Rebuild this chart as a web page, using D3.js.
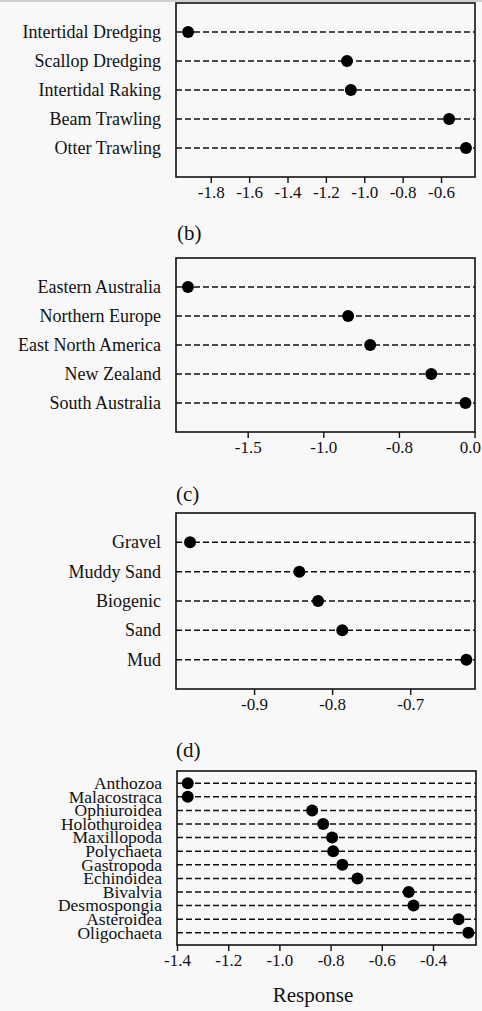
<!DOCTYPE html>
<html>
<head>
<meta charset="utf-8">
<script src="https://cdn.jsdelivr.net/npm/d3@7"></script>
<style>
  html, body { margin: 0; padding: 0; background: #f8f8f8; }
  svg { display: block; }
  text { font-family: "Liberation Serif", "DejaVu Serif", serif; fill: #111; }
</style>
</head>
<body>
<svg id="chart" width="482" height="1011"></svg>
<script>
// ---------- DATA ----------
const gearCategories = ["Intertidal Dredging", "Scallop Dredging", "Intertidal Raking", "Beam Trawling", "Otter Trawling"];
const gearValues = [-1.918, -1.09, -1.07, -0.558, -0.47];
const gearTicks = [-1.8, -1.6, -1.4, -1.2, -1.0, -0.8, -0.6];
const gearTickLabels = ["-1.8", "-1.6", "-1.4", "-1.2", "-1.0", "-0.8", "-0.6"];

const regionCategories = ["Eastern Australia", "Northern Europe", "East North America", "New Zealand", "South Australia"];
const regionValues = [-1.895, -0.836, -0.69, -0.286, -0.06];
const regionTicks = [-1.5, -1.0, -0.5, 0.0];
const regionTickLabels = ["-1.5", "-1.0", "-0.8", "0.0"];

const habitatCategories = ["Gravel", "Muddy Sand", "Biogenic", "Sand", "Mud"];
const habitatValues = [-0.982, -0.842, -0.818, -0.787, -0.628];
const habitatTicks = [-0.9, -0.8, -0.7];
const habitatTickLabels = ["-0.9", "-0.8", "-0.7"];

const taxonCategories = ["Anthozoa", "Malacostraca", "Ophiuroidea", "Holothuroidea", "Maxillopoda", "Polychaeta",
  "Gastropoda", "Echinoidea", "Bivalvia", "Desmospongia", "Asteroidea", "Oligochaeta"];
const taxonValues = [-1.358, -1.358, -0.872, -0.829, -0.794, -0.79, -0.754, -0.695, -0.495, -0.476, -0.30, -0.262];
const taxonTicks = [-1.4, -1.2, -1.0, -0.8, -0.6, -0.4];
const taxonTickLabels = ["-1.4", "-1.2", "-1.0", "-0.8", "-0.6", "-0.4"];

const panelLetters = ["(b)", "(c)", "(d)"];
const xAxisTitle = "Response";

// ---------- LAYOUT ----------
const panels = [
  { cats: gearCategories, vals: gearValues, ticks: gearTicks, labels: gearTickLabels,
    domain: [-1.981, -0.423], left: 176, right: 475, top: 3, bottom: 177, pad: 1, catFont: 18 },
  { cats: regionCategories, vals: regionValues, ticks: regionTicks, labels: regionTickLabels,
    domain: [-1.974, 0.003], left: 176, right: 475, top: 258, bottom: 432, pad: 1, catFont: 18 },
  { cats: habitatCategories, vals: habitatValues, ticks: habitatTicks, labels: habitatTickLabels,
    domain: [-1.0, -0.617], left: 176, right: 475, top: 513, bottom: 689, pad: 1, catFont: 18 },
  { cats: taxonCategories, vals: taxonValues, ticks: taxonTicks, labels: taxonTickLabels,
    domain: [-1.4, -0.232], left: 177, right: 476, top: 771, bottom: 945, pad: 0.9, catFont: 17.5 }
];
const letterPos = [ { x: 177, y: 240 }, { x: 176, y: 501 }, { x: 176, y: 757 } ];

const svg = d3.select("#chart");

svg.append("rect").attr("x", 0).attr("y", 0).attr("width", 482).attr("height", 2)
  .attr("fill", "#cfcfcf");

function drawPanel(p) {
  const x = d3.scaleLinear().domain(p.domain).range([p.left, p.right]);
  const y = d3.scalePoint().domain(p.cats).range([p.top, p.bottom]).padding(p.pad);
  const g = svg.append("g");

  // dashed guide lines
  g.selectAll("line.guide").data(p.cats).join("line")
    .attr("class", "guide")
    .attr("x1", x.range()[0]).attr("x2", x.range()[1])
    .attr("y1", d => y(d)).attr("y2", d => y(d))
    .attr("stroke", "#111").attr("stroke-width", 1.5)
    .attr("stroke-dasharray", "6,3");

  // frame
  g.append("rect")
    .attr("x", p.left).attr("y", p.top)
    .attr("width", p.right - p.left).attr("height", p.bottom - p.top)
    .attr("fill", "none").attr("stroke", "#111").attr("stroke-width", 1.6);

  // points
  g.selectAll("circle").data(p.cats).join("circle")
    .attr("cx", (d, i) => x(p.vals[i]))
    .attr("cy", d => y(d))
    .attr("r", 6)
    .attr("fill", "#000");

  // x axis
  const xa = g.append("g").attr("transform", `translate(0,${p.bottom})`)
    .call(d3.axisBottom(x).tickValues(p.ticks)
      .tickFormat((d, i) => p.labels[i]).tickSize(6).tickSizeOuter(0).tickPadding(3));
  xa.select(".domain").remove();
  xa.selectAll(".tick line").attr("stroke", "#111").attr("stroke-width", 1.4);
  xa.selectAll(".tick text").attr("font-size", 17).attr("fill", "#111")
    .style("font-family", '"Liberation Serif", "DejaVu Serif", serif')
    .each(function () {
      // keep labels inside the page edge
      const bb = this.getBBox();
      const ctm = this.parentNode.transform.baseVal.consolidate();
      const tx = ctm ? ctm.matrix.e : 0;
      const overflow = tx + bb.x + bb.width - 481;
      if (overflow > 0) d3.select(this).attr("dx", -overflow);
    });

  // y axis
  const ya = g.append("g").attr("transform", `translate(${p.left},0)`)
    .call(d3.axisLeft(y).tickSize(0).tickPadding(15));
  ya.select(".domain").remove();
  ya.selectAll(".tick text").attr("font-size", p.catFont).attr("fill", "#111").attr("dy", "0.3em")
    .style("font-family", '"Liberation Serif", "DejaVu Serif", serif');
}

panels.forEach(drawPanel);

panelLetters.forEach((t, i) => {
  svg.append("text").attr("x", letterPos[i].x).attr("y", letterPos[i].y)
    .attr("font-size", 21).text(t);
});

svg.append("text").attr("x", 313).attr("y", 1002).attr("text-anchor", "middle")
  .attr("font-size", 21).text(xAxisTitle);
</script>
</body>
</html>
